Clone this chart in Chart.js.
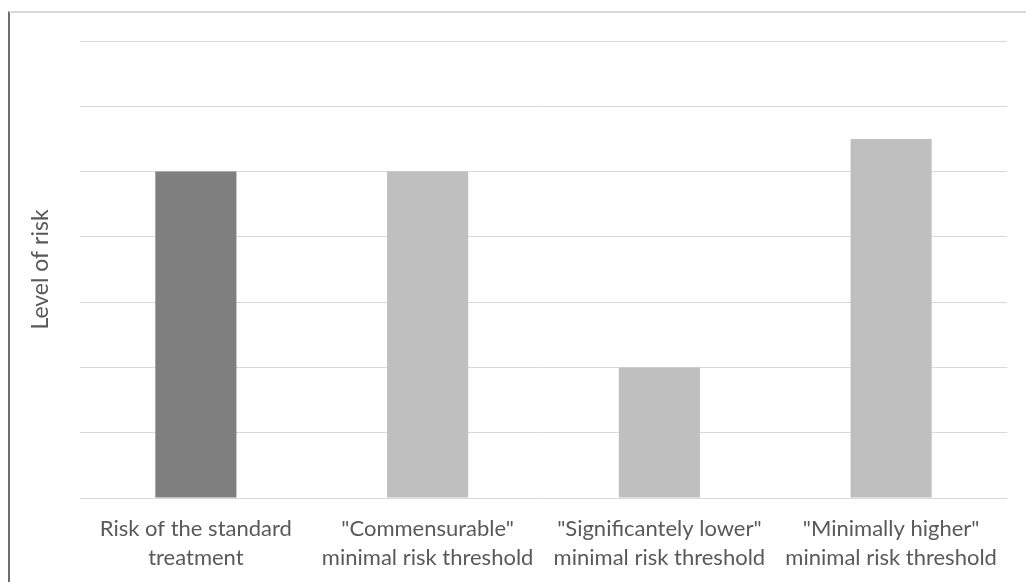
<!DOCTYPE html>
<html>
<head>
<meta charset="utf-8">
<script src="https://cdn.jsdelivr.net/npm/chart.js@4/dist/chart.umd.min.js"></script>
<style>
    html, body { margin: 0; padding: 0; background: #fff; }
    #frame {
        position: absolute; left: 8px; top: 11px; right: 0; bottom: 0;
        border-left: 2px solid #6e6e6e; border-top: 2px solid #d9d9d9;
    }
    #wrap { position: absolute; left: 0; top: 0; width: 1026px; height: 582px; }
</style>
</head>
<body>
<div id="frame"></div>
<div id="wrap"><canvas id="risk-chart"></canvas></div>
<script>
const categories = [
    ["Risk of the standard", "treatment"],
    ["\"Commensurable\"", "minimal risk threshold"],
    ["\"Significantely lower\"", "minimal risk threshold"],
    ["\"Minimally higher\"", "minimal risk threshold"]
];
const riskLevels = [5, 5, 2, 5.5];
const barColors = ["#7f7f7f", "#bfbfbf", "#bfbfbf", "#bfbfbf"];
const yMax = 7;

const textColor = "#595959";
const fontFamily = "Lato, 'Open Sans', sans-serif";

new Chart(document.getElementById("risk-chart").getContext("2d"), {
    type: 'bar',
    data: {
        labels: categories,
        datasets: [{
            label: 'Level of risk',
            data: riskLevels,
            backgroundColor: barColors,
            borderWidth: 0,
            categoryPercentage: 1,
            barPercentage: 0.35
        }]
    },
    options: {
        responsive: true,
        maintainAspectRatio: false,
        animation: false,
        layout: { padding: { top: 41, right: 19, left: 0, bottom: 0 } },
        plugins: {
            legend: { display: false },
            tooltip: { enabled: false }
        },
        scales: {
            x: {
                grid: { display: false, drawTicks: false },
                border: { display: false },
                ticks: {
                    color: textColor,
                    padding: 16,
                    maxRotation: 0,
                    autoSkip: false,
                    font: { family: fontFamily, size: 22, lineHeight: 1.32 }
                },
                afterFit: s => { s.height = 84; }
            },
            y: {
                min: 0,
                max: yMax,
                ticks: { display: false, stepSize: 1 },
                grid: { color: "#d9d9d9", lineWidth: 1, drawTicks: false },
                border: { display: false },
                title: {
                    display: true,
                    text: "Level of risk",
                    color: textColor,
                    padding: { top: 27, bottom: 0 },
                    font: { family: fontFamily, size: 23 }
                },
                afterFit: s => { s.width = 80; }
            }
        }
    }
});
</script>
</body>
</html>
